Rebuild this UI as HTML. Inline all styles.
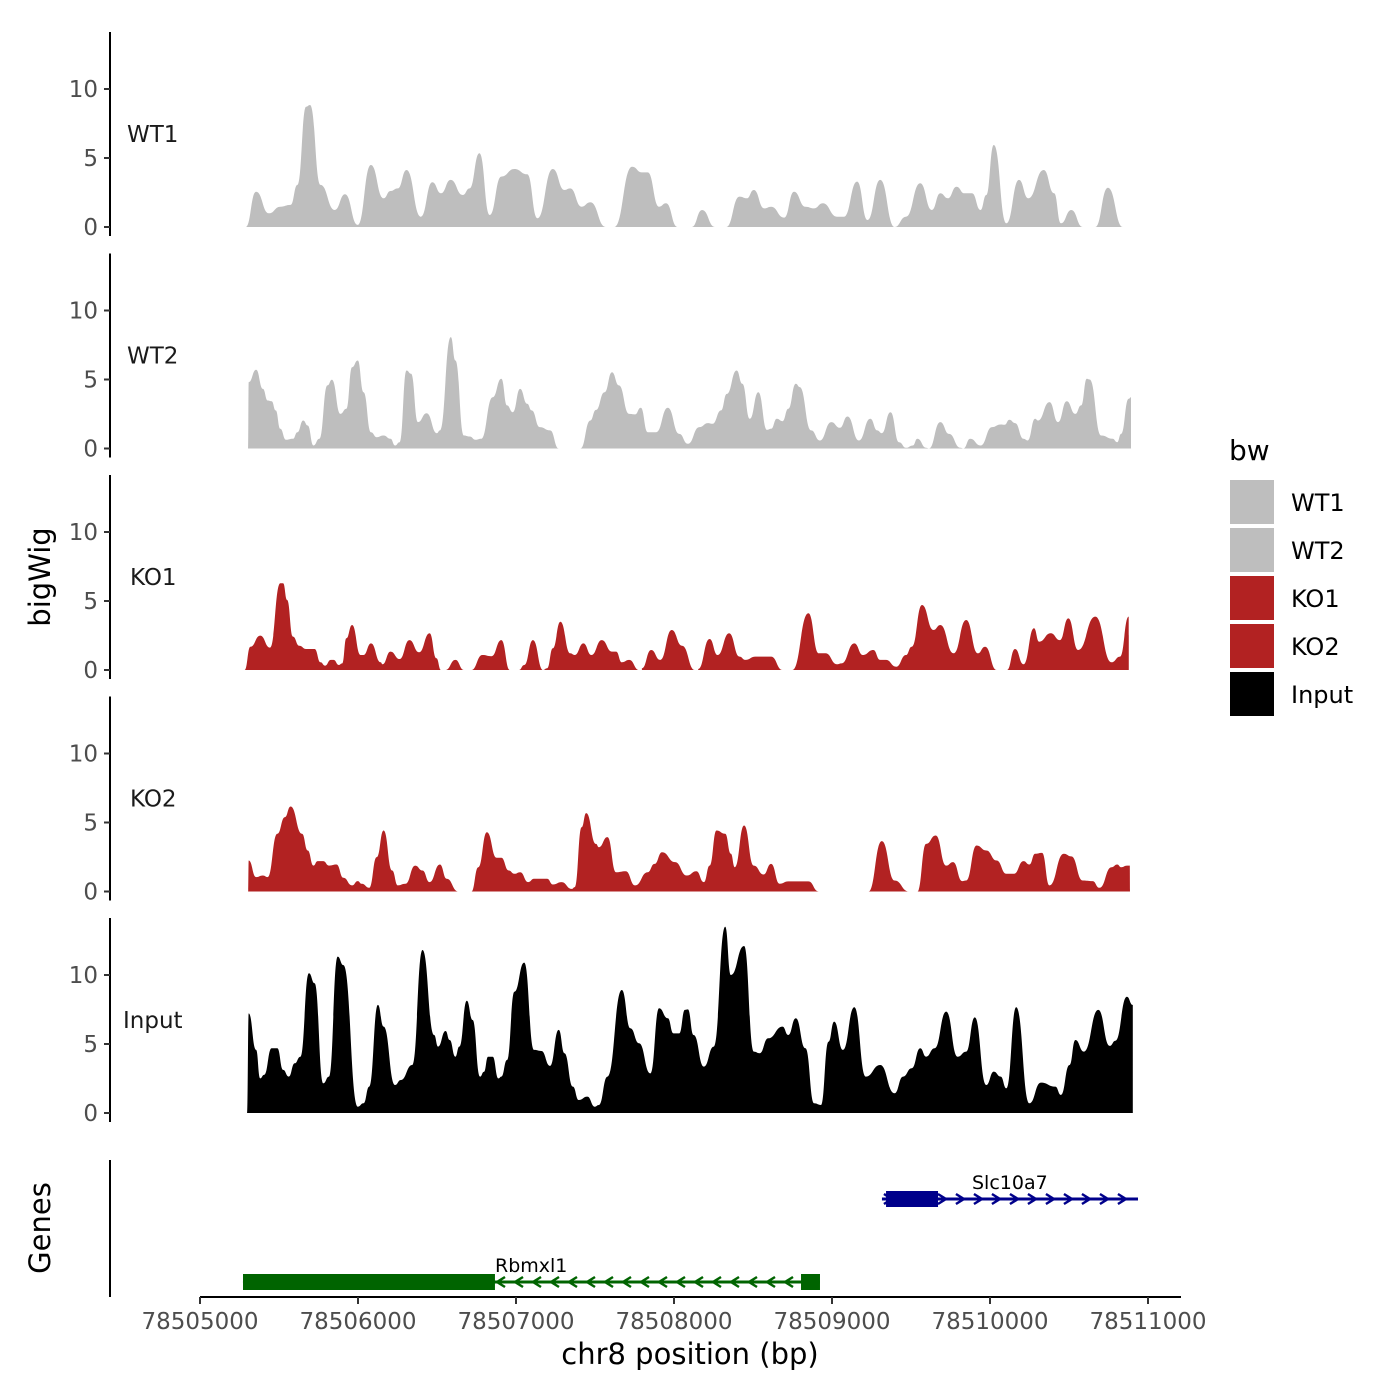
<!DOCTYPE html>
<html><head><meta charset="utf-8">
<style>
html,body{margin:0;padding:0;background:#fff;}
svg{display:block;font-family:"DejaVu Sans","Liberation Sans",sans-serif;}
</style></head>
<body>
<svg id="chart" width="1400" height="1400" viewBox="0 0 1400 1400" xmlns="http://www.w3.org/2000/svg">
<g id="tracks"></g>
<g id="genes"></g>
<g id="xaxis"></g>
<text x="42" y="577" transform="rotate(-90 42 577)" text-anchor="middle" dominant-baseline="middle" font-size="29">bigWig</text>
<text x="42" y="1228" transform="rotate(-90 42 1228)" text-anchor="middle" dominant-baseline="middle" font-size="29">Genes</text>
<text x="690" y="1364" text-anchor="middle" font-size="29">chr8 position (bp)</text>
<g id="legend">
<text x="1229" y="460" font-size="28">bw</text>
</g>
</svg>
<script>
const NS="http://www.w3.org/2000/svg";
const START=78505000;
const xTicks=[78505000,78506000,78507000,78508000,78509000,78510000,78511000];
const yTicks=[0,5,10];
const trackNames=["WT1","WT2","KO1","KO2","Input"];
const trackColors=["#bebebe","#bebebe","#b22222","#b22222","#000000"];
// positions = offsets from START in units of 1.0348 bp; null value = gap
const UNIT_BP=1.0348;
const wt1Pos=[280,343,421,491,554,596,649,673,737,824,887,965,1045,1123,1165,1210,1263,1351,1421,1474,1533,1607,1649,1709,1772,1843,1923,2001,2064,2158,2229,2264,2334,2387,2481,2500,2534,2643,2703,2738,2808,2850,2920,2960,3008,3071,3149,3180,3219,3300,3345,3387,3451,3493,3573,3633,3703,3756,3809,3896,3939,4019,4083,4160,4248,4318,4405,4476,4528,4574,4627,4676,4722,4774,4809,4855,4932,5009,5066,5160,5224,5266,5329,5399,5440,5476,5553,5645];
const wt1Val=[0,2.56,0.99,1.47,1.6,3.05,8.72,8.84,3.05,1.23,2.37,0.15,4.49,2.08,2.61,2.8,4.13,0.75,3.24,2.44,3.41,2.32,2.8,5.34,0.87,3.65,4.2,3.82,0.63,4.2,2.68,2.8,1.47,1.79,0,null,0,4.37,3.96,3.96,1.47,1.72,0,null,0,1.23,0,null,0,2.2,2.08,2.68,1.35,1.47,0.68,2.56,1.47,1.35,1.72,0.75,0.75,3.29,0.51,3.41,0,0.75,3.17,1.23,2.44,2.08,2.92,2.44,2.44,1.23,2.32,5.94,0.27,3.41,2.08,4.13,2.44,0.27,1.23,0,null,0,2.85,0];
const wt2Pos=[294,298,343,385,414,438,463,491,526,568,596,631,659,694,730,779,807,859,895,930,965,1000,1046,1081,1123,1165,1193,1221,1263,1291,1333,1386,1449,1467,1534,1562,1614,1649,1685,1720,1790,1843,1878,1913,1958,2001,2029,2078,2141,2194,2260,2327,2387,2422,2474,2520,2562,2625,2661,2696,2738,2790,2861,2931,2984,3054,3107,3135,3187,3222,3282,3317,3363,3415,3468,3493,3528,3563,3598,3644,3668,3738,3791,3861,3914,3960,4030,4100,4142,4170,4223,4276,4318,4360,4388,4441,4458,4528,4581,4651,4669,4711,4774,4844,4897,4922,4950,4985,5037,5062,5108,5125,5196,5248,5301,5354,5389,5424,5441,5512,5582,5610,5634,5680,5694,5695];
const wt2Val=[0,4.81,5.7,4.32,3.48,3.43,2.76,1.43,0.63,0.7,1.18,2.03,1.67,0.22,0.7,4.57,4.98,2.51,2.88,5.89,6.38,4.08,1.18,0.82,0.94,0.7,0.22,0.46,5.65,5.41,1.91,2.56,1.11,1.31,8.07,6.38,0.94,0.87,0.63,0.7,3.72,5.05,3.12,2.63,4.32,3.24,2.76,1.55,1.31,0,null,0,2.03,2.8,4.08,5.53,4.57,2.51,2.47,2.95,1.18,1.18,2.95,1.06,0.34,1.55,1.84,1.79,2.76,3.96,5.65,4.69,2.15,4.08,1.35,1.43,2.15,1.98,2.88,4.69,4.45,1.31,0.58,1.91,1.5,2.32,0.58,2.15,1.31,1.11,2.63,0.46,0.05,0.22,0.7,0.05,0,1.91,1.06,0.05,0,0.7,0.22,1.55,1.74,1.72,2.08,1.84,0.7,0.58,2.15,2.03,3.36,1.91,3.43,2.51,3.12,5.05,5.0,0.94,0.7,0.46,1.06,3.6,3.72,0];
const ko1Pos=[273,308,368,428,491,508,533,568,607,649,701,737,765,800,817,849,870,895,930,982,1000,1046,1105,1116,1165,1221,1281,1340,1404,1446,1474,1488,1502,1562,1614,1640,1660,1727,1783,1843,1895,1920,1951,1983,2036,2099,2123,2158,2204,2264,2292,2345,2394,2457,2520,2545,2580,2625,2685,2694,2703,2759,2815,2885,2948,3026,3036,3047,3117,3166,3236,3300,3335,3398,3493,3563,3590,3623,3721,3784,3826,3896,3924,4002,4054,4118,4160,4195,4258,4318,4353,4416,4486,4528,4609,4686,4757,4802,4872,4900,4936,4985,5037,5101,5132,5203,5259,5311,5371,5476,5575,5627,5680,5681];
const ko1Val=[0,1.69,2.49,1.62,6.28,6.28,5.07,2.42,1.76,1.52,1.52,0.56,0.31,0.73,0.73,0.36,0.48,2.3,3.26,1.09,1.09,1.93,0.56,0.41,1.33,0.8,2.17,1.28,2.66,0.85,0,null,0,0.73,0,null,0,1.09,1.0,2.17,0,null,0,0.36,2.17,0,0.12,1.57,3.5,1.21,1.09,1.93,1.09,2.17,1.33,1.33,0.56,0.73,0,null,0.12,1.45,0.73,2.9,1.76,0,null,0.07,2.25,1.09,2.66,0.97,0.73,0.97,0.97,0,null,0,4.11,1.21,1.21,0.41,0.48,1.93,1.09,1.45,0.73,0.73,0.24,1.09,1.69,4.71,2.9,3.26,1.21,3.62,1.21,1.69,0,null,0,1.52,0.41,3.02,2.05,2.66,2.17,3.74,1.45,3.87,0.56,0.97,3.87,0];
const ko2Pos=[294,298,343,385,414,473,519,554,624,659,694,719,754,789,835,877,930,965,989,1035,1081,1123,1175,1210,1256,1316,1361,1404,1467,1509,1579,1620,1660,1702,1755,1814,1843,1888,1923,1958,2008,2043,2123,2158,2211,2274,2292,2334,2362,2422,2439,2492,2545,2604,2661,2738,2780,2826,2906,2977,3036,3082,3117,3159,3212,3247,3271,3328,3387,3447,3493,3545,3598,3721,3784,3940,4089,4170,4248,4335,4360,4388,4441,4500,4564,4606,4662,4686,4750,4809,4872,4932,4978,5037,5073,5108,5150,5196,5283,5329,5399,5459,5501,5575,5610,5634,5670,5687,5688];
const ko2Val=[0,2.25,1.04,1.16,1.04,4.18,5.39,6.16,4.18,2.97,1.88,2.2,2.2,1.88,1.96,0.99,0.44,0.75,0.56,0.27,2.49,4.42,1.52,0.44,0.56,1.88,1.52,0.68,1.96,0.92,0,null,0,1.76,4.3,2.44,2.44,1.52,1.28,1.4,0.68,0.92,0.92,0.51,0.68,0.19,0.32,4.66,5.68,3.45,3.21,3.94,1.4,1.47,0.44,1.4,2.0,2.85,2.13,1.16,1.47,0.68,1.88,4.42,4.18,2.73,1.76,4.78,1.88,1.23,2.0,0.56,0.73,0.73,0,null,0,3.65,0.80,0,null,0,3.45,4.06,1.88,2.13,0.75,0.8,3.33,2.97,2.25,1.28,1.28,2.2,1.96,2.73,2.8,0.44,2.73,2.54,0.8,0.75,0.27,1.76,1.96,1.76,1.88,1.88,0];
const inpPos=[288,298,343,368,392,438,473,508,543,579,614,666,701,754,789,842,877,965,1000,1035,1088,1123,1193,1228,1298,1361,1432,1456,1502,1527,1562,1586,1632,1667,1713,1737,1762,1790,1825,1843,1878,1923,1983,2043,2088,2141,2194,2229,2281,2316,2369,2415,2439,2492,2580,2632,2685,2755,2808,2861,2896,2931,2966,2984,3019,3082,3142,3212,3247,3328,3387,3423,3475,3563,3598,3644,3703,3756,3798,3844,3879,3932,4002,4072,4160,4248,4300,4353,4405,4441,4493,4564,4634,4686,4739,4809,4855,4897,4932,4992,5073,5143,5231,5266,5318,5354,5406,5494,5564,5599,5669,5705,5706];
const inpVal=[0,7.22,4.57,2.51,2.76,4.69,4.69,3.12,2.64,3.6,4.08,10.12,9.4,2.15,2.64,11.33,10.72,0.46,0.7,1.91,7.83,6.26,2.03,2.39,3.48,11.81,5.65,4.81,5.94,5.29,4.08,4.81,8.14,6.74,2.64,2.99,4.08,4.08,2.51,2.64,3.84,8.79,10.9,4.57,4.49,3.41,6.02,4.33,1.91,0.94,1.19,0.46,0.58,2.64,8.91,6.14,5.05,2.87,7.59,6.86,5.77,5.77,7.47,7.51,5.65,3.36,4.81,13.5,10.0,12.1,4.45,4.33,5.41,6.26,5.65,6.86,4.69,0.7,0.58,5.17,6.62,4.57,7.66,2.64,3.48,1.43,2.64,3.24,4.69,4.08,4.69,7.35,4.08,4.45,6.93,2.03,3.0,2.64,1.79,7.66,0.7,2.2,1.91,1.31,3.48,5.29,4.45,7.47,4.86,5.24,8.43,7.83,0];
const trackPos=[wt1Pos,wt2Pos,ko1Pos,ko2Pos,inpPos];
const trackVal=[wt1Val,wt2Val,ko1Val,ko2Val,inpVal];
const geneNames=["Rbmxl1","Slc10a7"];
const geneStart=[263,4171];
const geneEnd=[3792,5737];
const geneStrand=[-1,1];
const geneExonStart=[[263,3676],[4196]];
const geneExonEnd=[[1804,3792],[4514]];
const geneColors=["#006400","#00008b"];

const xs=bp=>200+(bp-START)*0.158;
const xo=off=>xs(START+off*UNIT_BP);
const panelZero=[227,448.5,670,891.5,1113];
const ys=(i,v)=>panelZero[i]-v*13.8;

function mk(tag,attrs,parent){const e=document.createElementNS(NS,tag);for(const k in attrs)e.setAttribute(k,attrs[k]);parent.appendChild(e);return e;}
function smoothPath(pts){
  let d='';
  for(let k=0;k<pts.length;k++){
    const p=pts[k];
    if(k===0){d+='L'+p[0].toFixed(1)+','+p[1].toFixed(1);continue;}
    const q=pts[k-1];
    const mx=(q[0]+p[0])/2;
    d+='C'+mx.toFixed(1)+','+q[1].toFixed(1)+' '+mx.toFixed(1)+','+p[1].toFixed(1)+' '+p[0].toFixed(1)+','+p[1].toFixed(1);
  }
  return d;
}
const T=document.getElementById('tracks');
for(let i=0;i<5;i++){
  const g=mk('g',{},T);
  
  
  const top=panelZero[i]-195,bot=panelZero[i]+9;
  const ax=mk('line',{x1:110,x2:110,y1:top,y2:bot,stroke:'#000','stroke-width':2},g);
  
  
  yTicks.forEach(t=>{
    const y=ys(i,t);
    const tk=mk('line',{x1:104,x2:110,y1:y,y2:y,stroke:'#333','stroke-width':2},g);
    
    
    const lb=mk('text',{x:98,y:y+8,'text-anchor':'end','font-size':23,fill:'#4d4d4d'},g);
    lb.textContent=t;
    
    
  });
  const nm=mk('text',{x:[127,127,130,130,123][i],y:panelZero[i]-85,'font-size':23,fill:'#1a1a1a'},g);
  nm.textContent=trackNames[i];
  
  
  const P=trackPos[i],V=trackVal[i];
  let segs=[],cur=[];
  for(let k=0;k<P.length;k++){
    if(V[k]===null){if(cur.length)segs.push(cur);cur=[];continue;}
    cur.push([xo(P[k]),ys(i,V[k])]);
  }
  if(cur.length)segs.push(cur);
  segs.forEach(s=>{
    let d='M'+s[0][0].toFixed(1)+','+panelZero[i];
    d+=smoothPath(s);
    d+='L'+s[s.length-1][0].toFixed(1)+','+panelZero[i]+'Z';
    const a=mk('path',{d:d,fill:trackColors[i]},g);
    
    
  });
}
const G=document.getElementById('genes');
const gl=mk('line',{x1:110,x2:110,y1:1160,y2:1297,stroke:'#000','stroke-width':2},G);


const geneY=[1282,1199];
for(let i=0;i<geneNames.length;i++){
  const g=mk('g',{},G);
  
  
  const y=geneY[i],c=geneColors[i];
  const x1=xo(geneStart[i]),x2=xo(geneEnd[i]);
  mk('line',{x1:x1,x2:x2,y1:y,y2:y,stroke:c,'stroke-width':3},g);
  for(let ax=x1+6;ax<x2-2;ax+=18){
    const dx=geneStrand[i]*4;
    mk('polyline',{points:`${ax-dx},${y-5} ${ax+dx},${y} ${ax-dx},${y+5}`,fill:'none',stroke:c,'stroke-width':2.5},g);
  }
  geneExonStart[i].forEach((s,k)=>{
    const r=mk('rect',{x:xo(s),y:y-8,width:xo(geneExonEnd[i][k])-xo(s),height:16,fill:c},g);
    
    
  });
  const t=mk('text',{x:[495,972][i],y:y-10,'font-size':19,fill:'#000'},g);
  t.textContent=geneNames[i];
  
  
}
const X=document.getElementById('xaxis');
mk('line',{x1:200,x2:1181,y1:1297,y2:1297,stroke:'#000','stroke-width':2},X);
xTicks.forEach(t=>{
  const x=xs(t);
  const tk=mk('line',{x1:x,x2:x,y1:1297,y2:1304,stroke:'#333','stroke-width':2},X);
  
  
  const lb=mk('text',{x:x,y:1329,'text-anchor':'middle','font-size':23,fill:'#4d4d4d'},X);
  lb.textContent=t;
  
  
});
const L=document.getElementById('legend');
const legNames=["WT1","WT2","KO1","KO2","Input"];
legNames.forEach((n,i)=>{
  const y=480+i*48;
  const r=mk('rect',{x:1230,y:y,width:44,height:44,fill:trackColors[i]},L);
  
  
  const t=mk('text',{x:1291,y:y+31,'font-size':24,fill:'#000'},L);
  t.textContent=n;
  
  
});
</script>
</body></html>
